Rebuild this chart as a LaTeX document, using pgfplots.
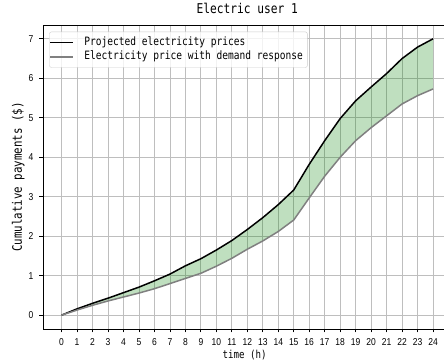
\documentclass[border=0pt]{standalone}
\usepackage{fontspec}
\setmainfont{DejaVu Sans Mono}[FakeStretch=0.83]
\newfontfamily\tickfont{Liberation Sans}[FakeStretch=0.85]
\usepackage{pgfplots}
\usepackage{pgfplotstable}
\pgfplotsset{compat=1.18}
\usepgfplotslibrary{fillbetween}
\definecolor{mplgreen}{RGB}{0,128,0}
\definecolor{gridgray}{RGB}{190,190,190}
\definecolor{linegray}{RGB}{128,128,128}
\pgfplotstableread{
h base dr
0 0.00 0.00
1 0.16 0.13
2 0.30 0.25
3 0.43 0.36
4 0.57 0.46
5 0.71 0.56
6 0.87 0.67
7 1.04 0.80
8 1.25 0.93
9 1.43 1.06
10 1.65 1.24
11 1.89 1.44
12 2.17 1.67
13 2.47 1.88
14 2.80 2.12
15 3.17 2.41
16 3.82 2.97
17 4.42 3.52
18 4.98 4.00
19 5.43 4.42
20 5.78 4.75
21 6.12 5.05
22 6.50 5.35
23 6.79 5.56
24 7.00 5.73
}\datatable
\begin{document}
\begin{tikzpicture}
\begin{axis}[
  scale only axis,
  width=408.6bp, height=304bp,
  xmin=-1.2, xmax=25.2, ymin=-0.35, ymax=7.35,
  xtick={0,1,...,24}, ytick={0,1,...,7},
  xtick pos=lower, ytick pos=left,
  tick align=outside, major tick length=3.5bp,
  every tick/.style={black, line width=0.8bp},
  axis line style={black, line width=0.8bp},
  grid=major,
  grid style={gridgray, line width=0.8bp},
  /pgf/number format/assume math mode=true,
  tick label style={font=\tickfont\fontsize{10bp}{12bp}\selectfont},
  xticklabel style={anchor=base, yshift=-13.5bp, inner sep=0pt},
  yticklabel style={anchor=east, inner sep=0pt, xshift=-6bp},
  title={Electric user 1},
  title style={at={(axis description cs:0.5,1.0187)}, anchor=base, inner sep=0pt, font=\fontsize{13.5bp}{16bp}\selectfont},
  xlabel={time (h)},
  xlabel style={at={(axis description cs:0.4937,-0.0987)}, anchor=base, inner sep=0pt, font=\fontsize{11bp}{13bp}\selectfont},
  ylabel={Cumulative payments (\$)},
  ylabel style={at={(axis description cs:-0.0514,0.5)}, anchor=base, inner sep=0pt, font=\fontsize{13bp}{15bp}\selectfont},
  legend style={at={(axis description cs:0.0154,0.978)}, anchor=north west,
    draw={rgb,255:red,204;green,204;blue,204}, rounded corners=2bp, fill=white, fill opacity=0.8, text opacity=1,
    inner xsep=0bp, inner ysep=3.5bp, row sep=0bp,
    font=\fontsize{11.5bp}{13bp}\selectfont,
    nodes={inner xsep=4.5bp, inner ysep=1.65bp, text height=8.5bp, text depth=2.5bp}},
  legend cell align=left,
  legend image code/.code={\draw[#1] (0bp,0bp) -- (23bp,0bp); \path (29bp,0bp);},
]
\addplot[draw=none, name path=A, forget plot] table[x=h, y=base] {\datatable};
\addplot[draw=none, name path=B, forget plot] table[x=h, y=dr] {\datatable};
\addplot[draw=none, fill=mplgreen, fill opacity=0.25, forget plot] fill between[of=A and B];
\addplot[black, line width=1.5bp] table[x=h, y=base] {\datatable};
\addlegendentry{Projected electricity prices}
\addplot[linegray, line width=1.5bp] table[x=h, y=dr] {\datatable};
\addlegendentry{Electricity price with demand response}
\end{axis}
\pgfresetboundingbox
\path[use as bounding box] ([shift={(-43bp,-34bp)}]current axis.south west) rectangle ([shift={(401bp,25bp)}]current axis.north west);
\end{tikzpicture}
\end{document}
